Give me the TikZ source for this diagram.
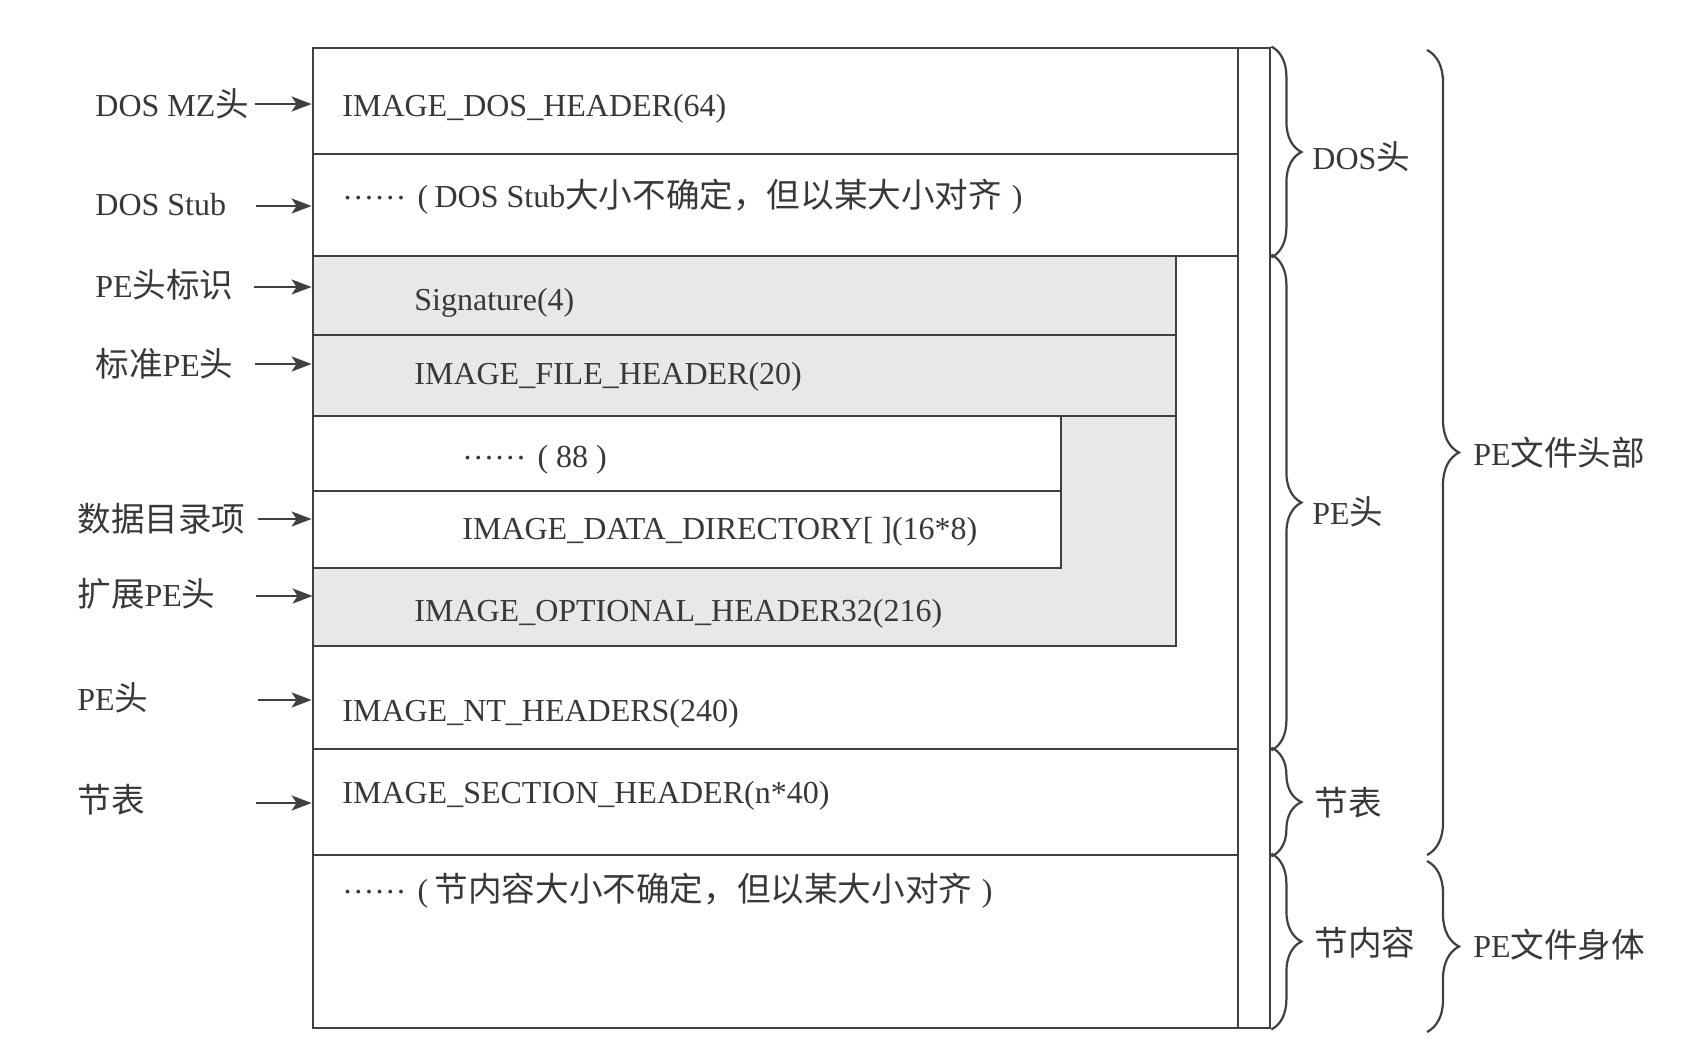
\documentclass[tikz,border=0pt]{standalone}
\usepackage{fontspec}
\setmainfont{Liberation Serif}
\newfontfamily\cjk[Scale=1.05]{Noto Sans CJK SC}
\usetikzlibrary{fit,arrows.meta,decorations.pathreplacing}
\definecolor{ln}{HTML}{404040}
\definecolor{tx}{HTML}{383838}
\definecolor{shd}{HTML}{E8E8EA}
\newcommand\zh[1]{{\cjk #1}}
\newcommand\dd{\raisebox{0.24em}{……}}
\begin{document}
\begin{tikzpicture}[x=0.5pt,y=-0.5pt,
  box/.style={draw=ln, line width=1.4pt, inner sep=0pt},
  reg/.style={inner sep=0pt},
  txt/.style={anchor=base west, inner sep=0pt, text=tx, font=\fontsize{16}{19}\selectfont},
  arr/.style={draw=ln, line width=1.2pt, -{Stealth[length=10pt,width=7.5pt,inset=2.5pt]}},
  brc/.style={draw=ln, line width=1.1pt, decorate, decoration={brace, amplitude=15pt}},
  bigbrc/.style={draw=ln, line width=1.1pt, decorate, decoration={brace, amplitude=16pt}},
]
\useasboundingbox[fill=white] (0,0) rectangle (1686,1046);

% structure
\node[box, fit={(313,48)(1270,1028)}] (file) {};
\node[box, fit={(313,48)(1238,1028)}] (maincol) {};
\node[box, fit={(313,48)(1238,154)}] (doshdr) {};
\node[box, fit={(313,154)(1238,256)}] (stub) {};
\node[box, fit={(313,256)(1238,749)}] (nthdr) {};
\node[box, fill=shd, fit={(313,256)(1176,646)}] (pehdr) {};
\node[box, fit={(313,256)(1176,335)}] (sig) {};
\node[box, fit={(313,335)(1176,416)}] (filehdr) {};
\node[reg, fit={(313,416)(1176,646)}] (opthdr) {};
\node[box, fill=white, fit={(313,416)(1061,491)}] (misc) {};
\node[box, fill=white, fit={(313,491)(1061,568)}] (datadir) {};
\node[box, fit={(313,749)(1238,855)}] (sechdr) {};
\node[box, fit={(313,855)(1238,1028)}] (secbody) {};

% texts in boxes
\node[txt] (t1) at (342,116) {IMAGE\_DOS\_HEADER(64)};
\node[txt] (t2) at (342,207) {\dd\hspace{0.35em}(\hspace{0.2em}DOS Stub\zh{大小不确定，但以某大小对齐}\hspace{0.3em})};
\node[txt] (t3) at (414,310) {Signature(4)};
\node[txt] (t4) at (414,384) {IMAGE\_FILE\_HEADER(20)};
\node[txt] (t5) at (462,467) {\dd\hspace{0.35em}(\hspace{0.25em}88\hspace{0.25em})};
\node[txt] (t6) at (462,539) {IMAGE\_DATA\_DIRECTORY[ ](16*8)};
\node[txt] (t7) at (414,621) {IMAGE\_OPTIONAL\_HEADER32(216)};
\node[txt] (t8) at (342,721) {IMAGE\_NT\_HEADERS(240)};
\node[txt] (t9) at (342,803) {IMAGE\_SECTION\_HEADER(n*40)};
\node[txt] (t10) at (342,901) {\dd\hspace{0.35em}(\hspace{0.2em}\zh{节内容大小不确定，但以某大小对齐}\hspace{0.3em})};

% left labels
\node[txt] (l1) at (95,116) {DOS MZ\zh{头}};
\node[txt] (l2) at (95,215) {DOS Stub};
\node[txt] (l3) at (95,297) {PE\zh{头标识}};
\node[txt] (l4) at (95,376) {\zh{标准}PE\zh{头}};
\node[txt] (l5) at (77,531) {\zh{数据目录项}};
\node[txt] (l6) at (77,606) {\zh{扩展}PE\zh{头}};
\node[txt] (l7) at (77,710) {PE\zh{头}};
\node[txt] (l8) at (77,812) {\zh{节表}};

% arrow starts
\coordinate (a1) at (255,104);
\coordinate (a2) at (256,206);
\coordinate (a3) at (254,287);
\coordinate (a4) at (255,364);
\coordinate (a5) at (258,519);
\coordinate (a6) at (256,596);
\coordinate (a7) at (258,700);
\coordinate (a8) at (256,803);
\draw[arr] (a1) -- (a1 -| doshdr.west);
\draw[arr] (a2) -- (a2 -| stub.west);
\draw[arr] (a3) -- (a3 -| sig.west);
\draw[arr] (a4) -- (a4 -| filehdr.west);
\draw[arr] (a5) -- (a5 -| datadir.west);
\draw[arr] (a6) -- (a6 -| opthdr.west);
\draw[arr] (a7) -- (a7 -| nthdr.west);
\draw[arr] (a8) -- (a8 -| sechdr.west);

% braces
\draw[brc] (file.east |- doshdr.north) -- (file.east |- stub.south);
\draw[brc] (file.east |- nthdr.north) -- (file.east |- nthdr.south);
\draw[brc] (file.east |- sechdr.north) -- (file.east |- sechdr.south);
\draw[brc] (file.east |- secbody.north) -- (file.east |- secbody.south);
\coordinate (b1) at (1427,50);
\coordinate (b2) at (1427,855);
\coordinate (b3) at (1427,861);
\coordinate (b4) at (1427,1032);
\draw[bigbrc] (b1) -- (b2);
\draw[bigbrc] (b3) -- (b4);

% right labels
\node[txt] (r1) at (1312,169) {DOS\zh{头}};
\node[txt] (r2) at (1312,524) {PE\zh{头}};
\node[txt] (r3) at (1314,815) {\zh{节表}};
\node[txt] (r4) at (1314,955) {\zh{节内容}};
\node[txt] (r5) at (1473,465) {PE\zh{文件头部}};
\node[txt] (r6) at (1473,957) {PE\zh{文件身体}};
\end{tikzpicture}
\end{document}
